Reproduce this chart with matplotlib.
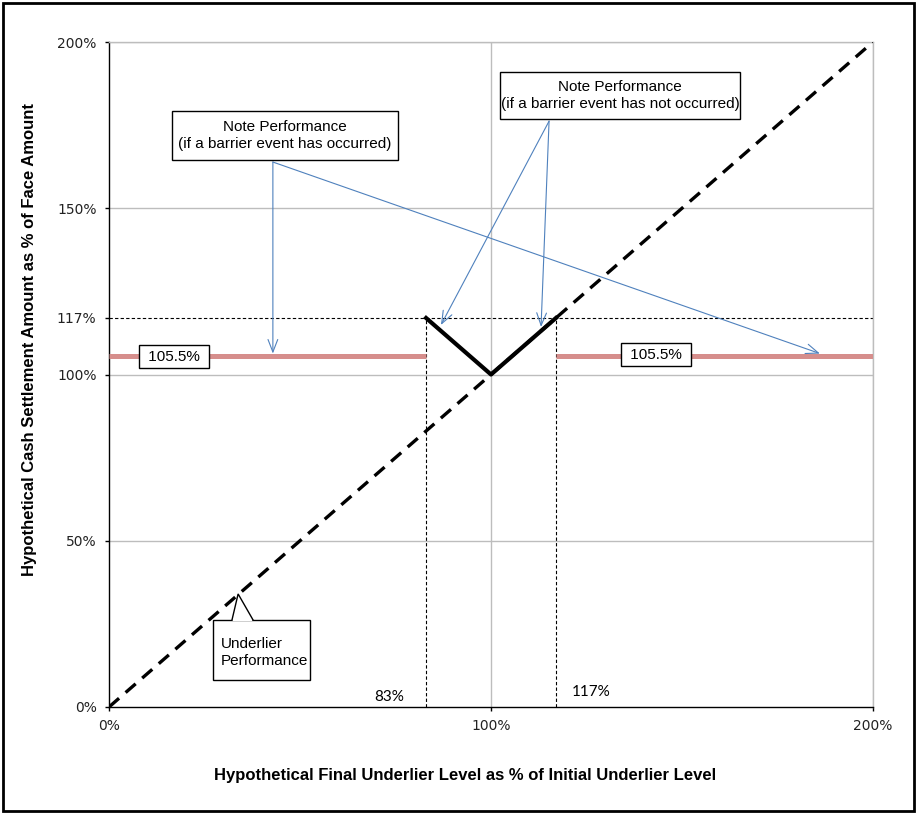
import matplotlib
matplotlib.use("Agg")
import matplotlib.pyplot as plt
from matplotlib.patches import Rectangle, Polygon

# ---- data ----
underlier_x = [0, 200]
underlier_y = [0, 200]
barrier_lo = 83
barrier_hi = 117
v_x = [83, 100, 117]
v_y = [117, 100, 117]
left_flat_x = [0, 83]
right_flat_x = [117, 200]
flat_level = 105.5
cap_level = 117
y_ticks = [0, 50, 100, 117, 150, 200]
y_tick_labels = ["0%", "50%", "100%", "117%", "150%", "200%"]
x_ticks = [0, 100, 200]
x_tick_labels = ["0%", "100%", "200%"]
h_grid = [50, 100, 150, 200]
v_grid = [100, 200]

# ---- annotation layout (data coordinates) ----
box1 = (16.5, 164.5, 59.2, 14.75)       # x, y, w, h
box1_text = (46.1, 171.9)
box1_src = (42.9, 163.9)
box1_targets = [(42.9, 106.3), (186.1, 106.3)]
box2 = (102.4, 176.8, 62.8, 14.2)
box2_text = (133.8, 183.9)
box2_src = (115.2, 176.2)
box2_targets = [(86.9, 114.9), (113.1, 114.3)]
box3 = (27.2, 8.1, 25.4, 18.1)
box3_text = (29.3, 16.4)
wedge_tip = (33.8, 34.0)
wedge_base = (32.2, 37.7, 26.2)          # x_left, x_right, y

fig = plt.figure(figsize=(9.17, 8.14), dpi=100)
ax = fig.add_axes([109/917, 1-707/814, 764/917, 665/814])
ax.set_xlim(0, 200)
ax.set_ylim(0, 200)

grid_c = "#BDBDBD"
for g in h_grid:
    ax.axhline(g, color=grid_c, lw=1, zorder=1)
for g in v_grid:
    ax.axvline(g, color=grid_c, lw=1, zorder=1)

# reference dashed lines
ax.plot([0, 200], [cap_level, cap_level], color="black", lw=0.8, ls=(0, (3, 2)), zorder=2)
ax.plot([barrier_lo, barrier_lo], [0, cap_level], color="black", lw=0.8, ls=(0, (3, 2)), zorder=2)
ax.plot([barrier_hi, barrier_hi], [0, cap_level], color="black", lw=0.8, ls=(0, (3, 2)), zorder=2)

# underlier
ax.plot(underlier_x, underlier_y, color="black", lw=2.4, ls=(0, (4, 2.6)), zorder=3)
# barrier-occurred flat
red = "#D68E8C"
ax.plot(left_flat_x, [flat_level]*2, color=red, lw=3.6, solid_capstyle="butt", zorder=3)
ax.plot(right_flat_x, [flat_level]*2, color=red, lw=3.6, solid_capstyle="butt", zorder=3)
# V payoff
ax.plot(v_x, v_y, color="black", lw=3.0, zorder=4)

for s in ["top", "right"]:
    ax.spines[s].set_color(grid_c)
    ax.spines[s].set_linewidth(1)
for s in ["left", "bottom"]:
    ax.spines[s].set_color("black")
    ax.spines[s].set_linewidth(1)

ax.set_yticks(y_ticks)
ax.set_yticklabels(y_tick_labels, fontsize=10, family="DejaVu Sans", color="#222222")
ax.set_xticks(x_ticks)
ax.set_xticklabels(x_tick_labels, fontsize=10, family="DejaVu Sans", color="#222222")
ax.tick_params(axis="both", length=3, width=1, direction="out", color="black")
ax.tick_params(axis="y", pad=6)
ax.tick_params(axis="x", pad=6)

font_c = ["Liberation Sans", "DejaVu Sans"]
ax.set_xlabel("Hypothetical Final Underlier Level as % of Initial Underlier Level",
              fontsize=12, fontweight="bold", family=font_c)
ax.set_ylabel("Hypothetical Cash Settlement Amount as % of Face Amount",
              fontsize=12, fontweight="bold", family=font_c)
ax.xaxis.set_label_coords(0.466, -0.092)
ax.yaxis.set_label_coords(-0.094, 0.552)

# in-plot labels
ax.text(77.2, 1.0, "83%", fontsize=11, family=["Lato", "DejaVu Sans"], ha="right", va="bottom")
ax.text(121.2, 2.5, "117%", fontsize=11, family=["Lato", "DejaVu Sans"], ha="left", va="bottom")

box = dict(boxstyle="square,pad=0.3", fc="white", ec="black", lw=1)
ax.text(17.0, 105.4, " 105.5% ", fontsize=11, family=font_c, ha="center", va="center", bbox=box, zorder=5)
ax.text(143.2, 106.0, " 105.5% ", fontsize=11, family=font_c, ha="center", va="center", bbox=box, zorder=5)

blue = "#4F81BD"
arrow = dict(arrowstyle="->,head_length=0.9,head_width=0.35", color=blue, lw=0.8, shrinkA=0, shrinkB=0)

def callout_box(b, z=6):
    ax.add_patch(Rectangle((b[0], b[1]), b[2], b[3], fc="white", ec="black", lw=1, zorder=z))

# barrier occurred callout
callout_box(box1)
ax.text(*box1_text, "Note Performance\n(if a barrier event has occurred)", fontsize=11,
        family=font_c, ha="center", va="center", linespacing=1.3, zorder=7)
for t in box1_targets:
    ax.annotate("", xy=t, xytext=box1_src, arrowprops=arrow, zorder=5)

# barrier not occurred callout
callout_box(box2)
ax.text(*box2_text, "Note Performance\n(if a barrier event has not occurred)", fontsize=11,
        family=font_c, ha="center", va="center", linespacing=1.3, zorder=7)
for t in box2_targets:
    ax.annotate("", xy=t, xytext=box2_src, arrowprops=arrow, zorder=5)

# underlier callout
callout_box(box3)
ax.text(*box3_text, "Underlier\nPerformance", fontsize=11, family=font_c,
        ha="left", va="center", linespacing=1.3, zorder=7)
xl, xr, yb = wedge_base
ax.add_patch(Polygon([(xl + 0.1, yb - 0.35), wedge_tip, (xr - 0.1, yb - 0.35)],
                     closed=True, fc="white", ec="none", zorder=7))
ax.plot([xl, wedge_tip[0], xr], [yb, wedge_tip[1], yb], color="black", lw=1, zorder=8,
        solid_joinstyle="miter")

# outer frame
fig.patches.append(Rectangle((3/917, 3/814), 911/917, 808/814, transform=fig.transFigure,
                             fill=False, ec="black", lw=2))

fig.savefig("out.png", dpi=100)
